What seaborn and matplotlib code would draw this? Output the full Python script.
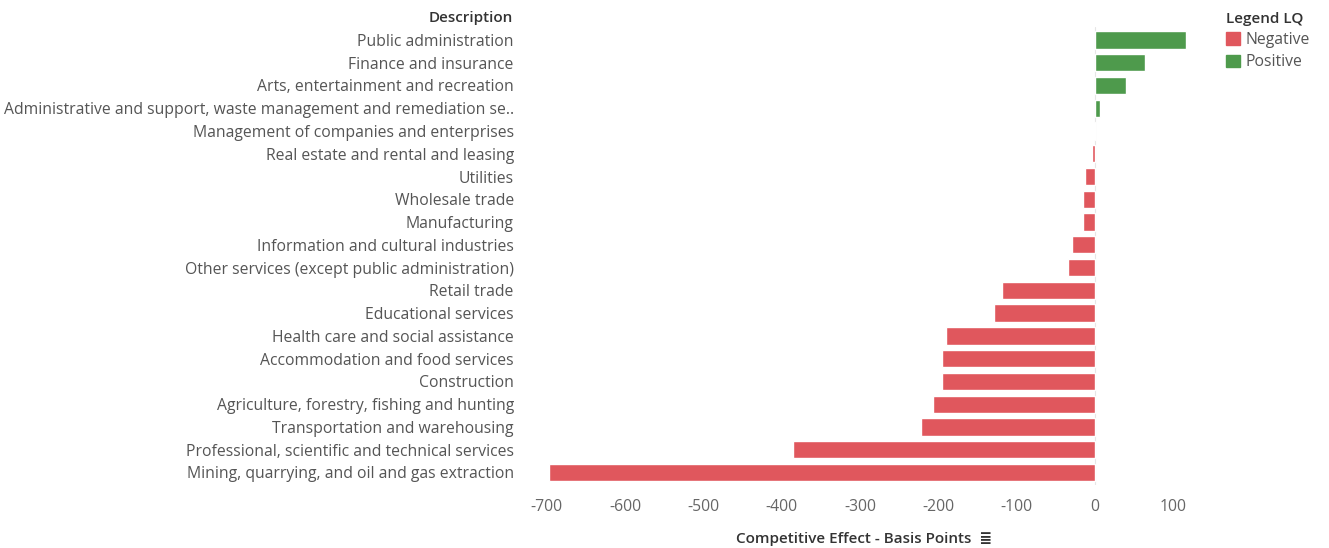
import matplotlib
matplotlib.use('Agg')
import matplotlib.pyplot as plt
import seaborn as sns
import pandas as pd
from matplotlib.patches import Patch

# Data
industries = [
    'Public administration',
    'Finance and insurance',
    'Arts, entertainment and recreation',
    'Administrative and support, waste management and remediation se..',
    'Management of companies and enterprises',
    'Real estate and rental and leasing',
    'Utilities',
    'Wholesale trade',
    'Manufacturing',
    'Information and cultural industries',
    'Other services (except public administration)',
    'Retail trade',
    'Educational services',
    'Health care and social assistance',
    'Accommodation and food services',
    'Construction',
    'Agriculture, forestry, fishing and hunting',
    'Transportation and warehousing',
    'Professional, scientific and technical services',
    'Mining, quarrying, and oil and gas extraction',
]
effect_bp = [117, 64, 40, 7, -1, -3, -12, -15, -15, -29, -34,
             -119, -129, -190, -195, -195, -207, -222, -386, -697]
x_ticks = [-700, -600, -500, -400, -300, -200, -100, 0, 100]

RED = '#e0575d'
GREEN = '#4e9a4c'
TXT = '#555555'
FS = 11.3

df = pd.DataFrame({'Description': industries, 'Effect': effect_bp})
df['Legend LQ'] = ['Positive' if v > 0 else 'Negative' for v in df['Effect']]

sns.set_style('white')
plt.rcParams['font.family'] = ['Open Sans', 'DejaVu Sans']

fig = plt.figure(figsize=(13.29, 5.48), dpi=100)
ax = fig.add_axes([0.395, 0.115, 0.51, 0.835])

sns.barplot(data=df, x='Effect', y='Description', hue='Legend LQ',
            hue_order=['Negative', 'Positive'],
            palette={'Negative': RED, 'Positive': GREEN},
            order=industries, dodge=False, width=0.76, saturation=1,
            legend=False, ax=ax)

ax.set_xlim(-728, 138)
ax.set_ylim(len(industries) - 0.45, -0.55)
ax.set_xticks(x_ticks)
ax.set_xticklabels([str(t) for t in x_ticks], color='#666666', fontsize=FS)
ax.tick_params(axis='y', labelsize=FS, labelcolor=TXT, length=0, pad=8)
ax.tick_params(axis='x', length=0, pad=10)
ax.set_ylabel('')
ax.set_xlabel('Competitive Effect - Basis Points  \u2263', color='#333333',
              fontsize=FS - 0.3, fontweight='semibold', labelpad=12)
for s in ax.spines.values():
    s.set_visible(False)
ax.axvline(0, color='#e6e6e6', lw=0.8, zorder=0)

fig.text(0.386, 0.968, 'Description', ha='right', va='center',
         fontsize=FS - 0.3, fontweight='semibold', color='#333333')

handles = [Patch(color=RED, label='Negative'), Patch(color=GREEN, label='Positive')]
leg = fig.legend(handles=handles, title='Legend LQ', loc='upper left',
                 bbox_to_anchor=(0.918, 0.99), frameon=False, fontsize=FS,
                 handlelength=0.85, handleheight=0.85, handletextpad=0.4,
                 labelspacing=0.4, borderaxespad=0)
leg.get_title().set_fontsize(FS - 0.3)
leg.get_title().set_fontweight('semibold')
leg.get_title().set_color('#333333')
leg._legend_box.align = 'left'
for t in leg.get_texts():
    t.set_color(TXT)

fig.savefig('out.png', dpi=100)
